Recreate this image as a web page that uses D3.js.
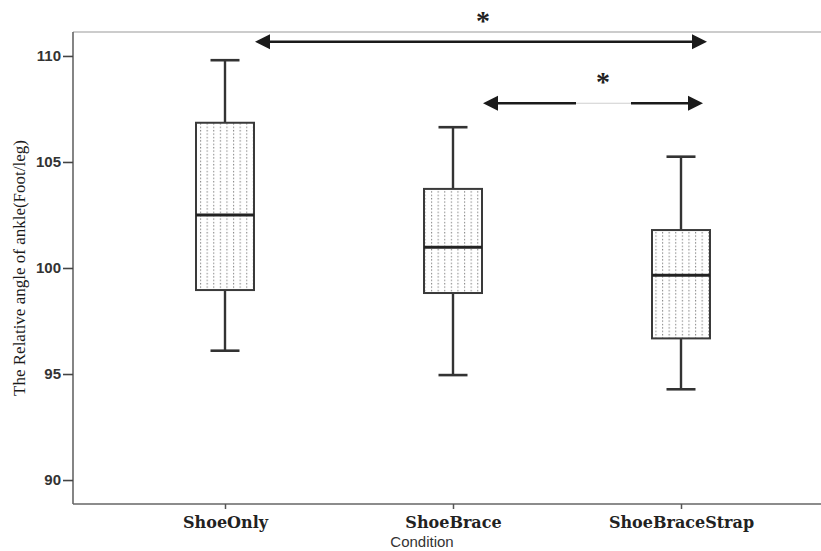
<!DOCTYPE html>
<html>
<head>
<meta charset="utf-8">
<script src="https://cdn.jsdelivr.net/npm/d3@7"></script>
<style>
  html, body { margin: 0; padding: 0; background: #fff; }
  svg { display: block; }
</style>
</head>
<body>
<svg id="chart" width="821" height="551"></svg>
<script>
// ---- data ----
const categories = ["ShoeOnly", "ShoeBrace", "ShoeBraceStrap"];
const minValues    = [96.1, 94.95, 94.28];
const q1Values     = [98.96, 98.82, 96.68];
const medianValues = [102.5, 100.98, 99.66];
const q3Values     = [106.85, 103.73, 101.79];
const maxValues    = [109.8, 106.64, 105.25];
const yTicks = [90, 95, 100, 105, 110];
const yLabel = "The Relative angle of ankle(Foot/leg)";
const xLabel = "Condition";
// significance comparisons
const compFrom  = ["ShoeOnly", "ShoeBrace"];
const compTo    = ["ShoeBraceStrap", "ShoeBraceStrap"];
const compLevel = [110.67, 107.77];
const compMark  = ["*", "*"];

// ---- layout ----
const svg = d3.select("#chart");
const plotLeft = 73, plotBottom = 504, plotTop = 32, plotRight = 833;

const y = d3.scaleLinear().domain([88.87, 111.13]).range([plotBottom, plotTop]);
const x = d3.scalePoint().domain(categories).range([plotLeft, plotRight]).padding(2 / 3);

// pattern for box fill
const defs = svg.append("defs");
const pat = defs.append("pattern")
  .attr("id", "dots").attr("patternUnits", "userSpaceOnUse")
  .attr("width", 6.6).attr("height", 3.4).attr("x", 2).attr("y", 0);
pat.append("rect").attr("width", 6.6).attr("height", 3.4).attr("fill", "#fff");
pat.append("rect").attr("x", 0).attr("y", 0.8).attr("width", 1.1).attr("height", 1.4).attr("fill", "#8a8a8a");

// top frame line
svg.append("line").attr("x1", plotLeft).attr("x2", 821).attr("y1", plotTop).attr("y2", plotTop)
  .attr("stroke", "#9a9a9a").attr("stroke-width", 1.2);

// y axis
const yAxis = d3.axisLeft(y).tickValues(yTicks).tickSize(10).tickPadding(2).tickSizeOuter(0);
const gy = svg.append("g").attr("transform", `translate(${plotLeft},0)`).call(yAxis);
gy.select(".domain").attr("stroke", "#666").attr("stroke-width", 1.6)
  .attr("d", `M0,${plotTop}V${plotBottom}`);
gy.selectAll(".tick line").attr("stroke", "#444").attr("stroke-width", 1.6);
gy.selectAll(".tick text").attr("font-family", "'Liberation Sans', Arial, sans-serif")
  .attr("font-weight", "bold").attr("font-size", 15).attr("fill", "#333");

// x axis
const xAxis = d3.axisBottom(x).tickSize(5).tickPadding(8).tickSizeOuter(0);
const gx = svg.append("g").attr("transform", `translate(0,${plotBottom})`).call(xAxis);
gx.select(".domain").attr("stroke", "#666").attr("stroke-width", 1.6)
  .attr("d", `M${plotLeft},0H821`);
gx.selectAll(".tick line").attr("stroke", "#555").attr("stroke-width", 1.5);
gx.selectAll(".tick text").attr("font-family", "'DejaVu Serif', serif")
  .attr("font-weight", "bold").attr("font-size", 16).attr("fill", "#222");

// axis titles
svg.append("text").attr("x", 422).attr("y", 547)
  .attr("text-anchor", "middle").attr("font-family", "'Liberation Sans', Arial, sans-serif")
  .attr("font-size", 15).attr("fill", "#333").text(xLabel);
svg.append("text").attr("transform", "translate(25,268) rotate(-90)")
  .attr("text-anchor", "middle").attr("font-family", "'Liberation Serif', 'Times New Roman', serif")
  .attr("font-size", 17).attr("fill", "#1a1a1a").text(yLabel);

// boxes
const boxW = 58, capW = 29;
const data = categories.map((c, i) => ({
  c, min: minValues[i], q1: q1Values[i], med: medianValues[i], q3: q3Values[i], max: maxValues[i]
}));
const g = svg.append("g");
data.forEach(d => {
  const cx = x(d.c);
  g.append("line").attr("x1", cx).attr("x2", cx).attr("y1", y(d.max)).attr("y2", y(d.q3))
    .attr("stroke", "#333").attr("stroke-width", 2.4);
  g.append("line").attr("x1", cx).attr("x2", cx).attr("y1", y(d.q1)).attr("y2", y(d.min))
    .attr("stroke", "#333").attr("stroke-width", 2.4);
  g.append("line").attr("x1", cx - capW / 2).attr("x2", cx + capW / 2).attr("y1", y(d.max)).attr("y2", y(d.max))
    .attr("stroke", "#333").attr("stroke-width", 2.6);
  g.append("line").attr("x1", cx - capW / 2).attr("x2", cx + capW / 2).attr("y1", y(d.min)).attr("y2", y(d.min))
    .attr("stroke", "#333").attr("stroke-width", 2.6);
  g.append("rect").attr("x", cx - boxW / 2).attr("width", boxW)
    .attr("y", y(d.q3)).attr("height", y(d.q1) - y(d.q3))
    .attr("fill", "url(#dots)").attr("stroke", "#3a3a3a").attr("stroke-width", 2);
  g.append("line").attr("x1", cx - boxW / 2).attr("x2", cx + boxW / 2).attr("y1", y(d.med)).attr("y2", y(d.med))
    .attr("stroke", "#222").attr("stroke-width", 3);
});

// significance arrows
const headL = 15, headH = 7.5;
function arrowHead(tipX, yy, dir) {
  svg.append("path")
    .attr("d", `M${tipX},${yy}L${tipX + dir * headL},${yy - headH}L${tipX + dir * headL},${yy + headH}Z`)
    .attr("fill", "#1a1a1a");
}
compFrom.forEach((from, i) => {
  const yy = y(compLevel[i]);
  const x1 = x(from) + 30;
  const x2 = i === 0 ? x(compTo[i]) + 26 : x(compTo[i]) + 22;
  if (i === 0) {
    svg.append("line").attr("x1", x1 + 10).attr("x2", x2 - 10).attr("y1", yy).attr("y2", yy)
      .attr("stroke", "#1a1a1a").attr("stroke-width", 2.6);
  } else {
    const gap1 = 576, gap2 = 631;
    svg.append("line").attr("x1", x1 + 10).attr("x2", gap1).attr("y1", yy).attr("y2", yy)
      .attr("stroke", "#1a1a1a").attr("stroke-width", 2.6);
    svg.append("line").attr("x1", gap1).attr("x2", gap2).attr("y1", yy).attr("y2", yy)
      .attr("stroke", "#cfcfcf").attr("stroke-width", 1.2);
    svg.append("line").attr("x1", gap2).attr("x2", x2 - 10).attr("y1", yy).attr("y2", yy)
      .attr("stroke", "#1a1a1a").attr("stroke-width", 2.6);
  }
  arrowHead(x1, yy, 1);
  arrowHead(x2, yy, -1);
  const starX = i === 0 ? 483 : 603;
  svg.append("text").attr("x", starX).attr("y", yy - 12)
    .attr("text-anchor", "middle").attr("font-family", "'Liberation Serif', serif")
    .attr("font-weight", "bold").attr("font-size", 28).attr("fill", "#222")
    .text(compMark[i]);
});
</script>
</body>
</html>
